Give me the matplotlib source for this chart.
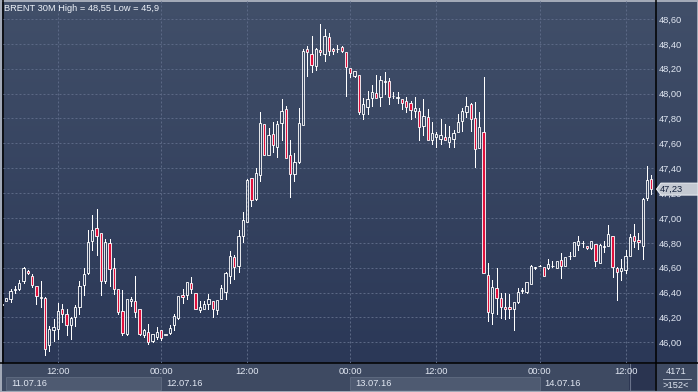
import numpy as np
import matplotlib.pyplot as plt
from matplotlib.patches import Rectangle, Polygon

# --- Data: BRENT 30M candles ---
opens = [46.30, 46.33, 46.347, 46.42, 46.43, 46.49, 46.57, 46.536, 46.45, 46.355,
         46.36, 45.976, 46.10, 46.11, 46.264, 46.23, 46.136, 46.20, 46.285, 46.46,
         46.557, 46.813, 46.92, 46.88, 46.49, 46.80, 46.60, 46.43, 46.25, 46.07,
         46.33, 46.33, 46.264, 46.06, 46.08, 46.01, 46.045, 46.097, 46.06, 46.078,
         46.137, 46.199, 46.384, 46.384, 46.476, 46.40, 46.261, 46.269, 46.309, 46.331,
         46.261, 46.352, 46.406, 46.535, 46.685, 46.613, 46.857, 46.97, 47.32, 47.153,
         47.349, 47.755, 47.51, 47.674, 47.567, 47.76, 47.876, 47.505, 47.357, 47.454,
         47.75, 48.362, 48.322, 48.22, 48.352, 48.317, 48.456, 48.36, 48.358, 48.376,
         48.335, 48.206, 48.139, 48.15, 47.833, 47.892, 47.962, 48.005, 47.97, 48.097,
         48.102, 47.98, 47.965, 47.957, 47.943, 47.927, 47.857, 47.863, 47.736, 47.814,
         47.623, 47.65, 47.637, 47.653, 47.607, 47.639, 47.688, 47.779, 47.852, 47.919,
         47.803, 47.559, 47.69, 46.54, 46.237, 46.437, 46.356, 46.283, 46.283, 46.265,
         46.326, 46.413, 46.404, 46.472, 46.60, 46.613, 46.603, 46.598, 46.613, 46.60,
         46.66, 46.617, 46.69, 46.697, 46.786, 46.797, 46.773, 46.759, 46.789, 46.641,
         46.769, 46.775, 46.853, 46.595, 46.574, 46.579, 46.695, 46.853, 46.824, 46.775,
         47.157, 47.313]
highs = [46.33, 46.36, 46.43, 46.45, 46.50, 46.605, 46.58, 46.547, 46.45, 46.49,
         46.365, 46.13, 46.19, 46.32, 46.31, 46.27, 46.205, 46.30, 46.49, 46.595,
         46.90, 47.02, 47.07, 46.88, 46.83, 46.83, 46.68, 46.43, 46.424, 46.35,
         46.365, 46.53, 46.264, 46.11, 46.15, 46.07, 46.125, 46.10, 46.065, 46.137,
         46.226, 46.371, 46.425, 46.481, 46.524, 46.40, 46.331, 46.331, 46.387, 46.331,
         46.344, 46.46, 46.562, 46.734, 46.699, 46.903, 47.045, 47.312, 47.325, 47.403,
         47.854, 47.755, 47.72, 47.771, 47.777, 47.96, 47.903, 47.629, 47.521, 47.887,
         48.36, 48.381, 48.462, 48.368, 48.556, 48.516, 48.49, 48.368, 48.395, 48.381,
         48.335, 48.206, 48.185, 48.15, 47.965, 48.018, 48.072, 48.153, 48.139, 48.177,
         48.129, 48.016, 48.016, 47.957, 47.97, 47.94, 47.975, 47.887, 47.959, 47.879,
         47.774, 47.69, 47.798, 47.758, 47.742, 47.704, 47.838, 47.887, 47.973, 47.927,
         47.93, 47.854, 48.137, 46.637, 46.50, 46.598, 46.394, 46.399, 46.388, 46.321,
         46.434, 46.434, 46.482, 46.619, 46.609, 46.62, 46.603, 46.67, 46.654, 46.654,
         46.716, 46.684, 46.727, 46.805, 46.851, 46.813, 46.775, 46.816, 46.789, 46.789,
         46.816, 46.945, 46.853, 46.609, 46.668, 46.743, 46.867, 46.95, 46.883, 47.157,
         47.415, 47.342]
lows = [46.27, 46.33, 46.325, 46.40, 46.42, 46.48, 46.55, 46.445, 46.31, 46.28,
        45.90, 45.933, 46.01, 46.03, 46.165, 46.06, 46.03, 46.13, 46.23, 46.38,
        46.55, 46.74, 46.70, 46.38, 46.475, 46.45, 46.387, 46.225, 46.055, 46.06,
        46.29, 46.20, 46.06, 46.04, 45.99, 46.00, 46.03, 46.02, 46.055, 46.07,
        46.097, 46.19, 46.317, 46.35, 46.398, 46.271, 46.245, 46.269, 46.266, 46.204,
        46.226, 46.352, 46.347, 46.473, 46.513, 46.567, 46.809, 46.97, 47.10, 47.145,
        47.30, 47.505, 47.51, 47.527, 47.492, 47.629, 47.481, 47.172, 47.298, 47.446,
        47.744, 48.139, 48.172, 48.188, 48.309, 48.26, 48.314, 48.319, 48.335, 48.335,
        47.978, 48.134, 48.131, 47.833, 47.793, 47.833, 47.897, 47.962, 47.897, 48.00,
        47.919, 47.965, 47.927, 47.876, 47.854, 47.798, 47.809, 47.631, 47.664, 47.631,
        47.596, 47.567, 47.596, 47.623, 47.567, 47.567, 47.688, 47.699, 47.811, 47.696,
        47.406, 47.559, 46.554, 46.17, 46.148, 46.227, 46.197, 46.189, 46.192, 46.098,
        46.313, 46.394, 46.396, 46.472, 46.59, 46.61, 46.536, 46.59, 46.603, 46.60,
        46.52, 46.617, 46.673, 46.697, 46.74, 46.765, 46.754, 46.754, 46.614, 46.635,
        46.727, 46.775, 46.528, 46.342, 46.498, 46.56, 46.695, 46.77, 46.751, 46.673,
        47.141, 47.192]
closes = [46.31, 46.36, 46.41, 46.425, 46.48, 46.595, 46.555, 46.46, 46.37, 46.365,
          45.95, 46.104, 46.12, 46.25, 46.224, 46.14, 46.197, 46.285, 46.45, 46.55,
          46.81, 46.90, 46.856, 46.49, 46.81, 46.59, 46.43, 46.24, 46.077, 46.347,
          46.345, 46.24, 46.07, 46.095, 46.00, 46.067, 46.08, 46.038, 46.063, 46.118,
          46.21, 46.371, 46.368, 46.481, 46.425, 46.271, 46.28, 46.306, 46.352, 46.269,
          46.344, 46.436, 46.556, 46.691, 46.605, 46.852, 46.981, 47.304, 47.142, 47.36,
          47.763, 47.505, 47.666, 47.583, 47.755, 47.863, 47.486, 47.352, 47.449, 47.763,
          48.346, 48.335, 48.231, 48.362, 48.335, 48.467, 48.341, 48.346, 48.36, 48.341,
          48.215, 48.166, 48.185, 47.852, 47.916, 47.957, 48.016, 47.962, 48.112, 48.10,
          47.973, 47.981, 47.967, 47.922, 47.895, 47.871, 47.887, 47.731, 47.82, 47.631,
          47.685, 47.677, 47.669, 47.623, 47.653, 47.685, 47.774, 47.863, 47.903, 47.793,
          47.553, 47.731, 46.554, 46.245, 46.444, 46.359, 46.286, 46.265, 46.27, 46.321,
          46.404, 46.415, 46.482, 46.614, 46.601, 46.614, 46.536, 46.633, 46.615, 46.652,
          46.614, 46.684, 46.692, 46.805, 46.813, 46.798, 46.756, 46.813, 46.654, 46.781,
          46.77, 46.872, 46.603, 46.563, 46.595, 46.695, 46.848, 46.813, 46.805, 47.152,
          47.308, 47.232]

# bar index of each time gridline, and where each trading day starts
time_ticks = [13, 37, 57, 81, 101, 125, 145]
time_labels = ["12:00", "00:00", "12:00", "00:00", "12:00", "00:00", "12:00"]
day_starts = [1, 37, 81, 125]
day_labels = ["11.07.16", "12.07.16", "13.07.16", "14.07.16"]
price_levels = np.arange(46.0, 48.61, 0.2)

TITLE = "BRENT 30M High = 48,55 Low = 45,9"
BAR_COUNT_TEXT = "4171"
VISIBLE_TEXT = ">152<"

# --- Style ---
W, H = 698, 392
FONT = "Liberation Sans"
FS = 6.7
TXT = "#e1e7f2"
RED = "#e0103c"
GRID = "#5b6885"
PANEL = "#3e4a62"
DAYBOX = "#4e5a71"


def fmt(v):
    return f"{v:.2f}".replace(".", ",")


fig = plt.figure(figsize=(W / 100, H / 100), dpi=100)

# 1. background: gradient chart area + flat bottom panel (pixel coordinates)
bg = fig.add_axes([0, 0, 1, 1], zorder=0)
bg.axis("off")
top_c = np.array([0x41, 0x4f, 0x69]) / 255
bot_c = np.array([0x2b, 0x38, 0x57]) / 255
t = np.linspace(0, 1, 256)[:, None, None]
bg.imshow(top_c + (bot_c - top_c) * t, aspect="auto", extent=(0, W, 363.3, 0))
bg.add_patch(Rectangle((0, 363.3), W, H - 363.3, fc=PANEL, ec="none"))
bg.set_xlim(0, W)
bg.set_ylim(H, 0)

# 2. main price axes
ax = fig.add_axes([3 / W, (H - 363.3) / H, (655.3 - 3) / W, (363.3 - 1) / H], zorder=2)
ax.patch.set_alpha(0)
ax.set_xlim(0.23, 151.93)
ax.set_ylim(45.831, 48.745)
for s in ax.spines.values():
    s.set_visible(False)

ax.set_yticks(price_levels)
ax.set_yticklabels([fmt(v) for v in price_levels])
ax.yaxis.tick_right()
ax.set_xticks(time_ticks)
ax.set_xticklabels(time_labels)
ax.tick_params(length=0, colors=TXT, labelsize=FS)
ax.tick_params(axis="y", pad=2.2)
ax.tick_params(axis="x", pad=2.5)
for lab in ax.get_xticklabels() + ax.get_yticklabels():
    lab.set_fontfamily(FONT)
ax.grid(True, color=GRID, lw=0.72, linestyle=(0, (2, 2)))
ax.set_axisbelow(True)

# 3. candles: white wick, white outline, red face when falling (hollow when rising)
bw = 0.55
for i, (o, h, l, c) in enumerate(zip(opens, highs, lows, closes)):
    top, bot = max(o, c), min(o, c)
    ax.vlines(i, top, h, color="white", lw=0.72, antialiased=False)
    ax.vlines(i, l, bot, color="white", lw=0.72, antialiased=False)
    face = RED if c < o else "none"
    ax.add_patch(Rectangle((i - bw / 2, bot), bw, max(top - bot, 0.004),
                           fc=face, ec="white", lw=0.62, zorder=3))


def to_px(x, y):
    dx, dy = ax.transData.transform((x, y))
    return dx, H - dy


# 4. frame lines
bg.plot([0, W], [363.3, 363.3], color="black", lw=1.1)
bg.plot([655.8, 655.8], [0, 390], color="black", lw=1.1)
bg.plot([2.7, 2.7], [0, 363.3], color="black", lw=1.1)

# 5. date strip with alternating boxes
for k, (start, lab) in enumerate(zip(day_starts, day_labels)):
    x0 = to_px(start, 0)[0]
    x1 = to_px(day_starts[k + 1], 0)[0] if k + 1 < len(day_starts) else 628
    if k % 2 == 0:
        bg.add_patch(Rectangle((x0, 376.7), x1 - x0, 13.3, fc=DAYBOX, ec="#5c687e", lw=0.7))
    bg.text(x0 + 5, 383.5, lab, color=TXT, fontsize=FS, family=FONT, va="center", ha="left")

# scroll thumb in bottom-right of time strip
bg.add_patch(Rectangle((628.5, 364), 26, 26, fc="#2a3450", ec="none"))
bg.plot([629.5, 629.5], [364, 390], color="#69728a", lw=0.8)

# outer border
bg.add_patch(Rectangle((0.5, 0.5), W - 1, H - 1, fc="none", ec="#a5acba", lw=1.4))

# 6. overlay texts
ov = fig.add_axes([0, 0, 1, 1], zorder=3)
ov.set_xlim(0, W)
ov.set_ylim(H, 0)
ov.axis("off")
ov.text(4, 8.5, TITLE, color="#eef2f9", fontsize=FS, family=FONT, va="center", ha="left")

yc = to_px(0, closes[-1])[1]
ov.add_patch(Polygon([(656.5, yc), (661, yc - 6), (698, yc - 6), (698, yc + 6), (661, yc + 6)],
                     closed=True, fc="#c4c9d2", ec="#eef1f5", lw=0.7))
ov.text(659.5, yc + 0.5, fmt(closes[-1]), color="#14213c", fontsize=FS, family=FONT,
        va="center", ha="left")

ov.text(676, 371.5, BAR_COUNT_TEXT, color=TXT, fontsize=FS, family=FONT, va="center", ha="center")
ov.plot([663, 691], [378.5, 378.5], color="#aab3c4", lw=0.7)
ov.text(676, 385, VISIBLE_TEXT, color=TXT, fontsize=FS, family=FONT, va="center", ha="center")

fig.savefig("out.png", dpi=100)
plt.close(fig)
